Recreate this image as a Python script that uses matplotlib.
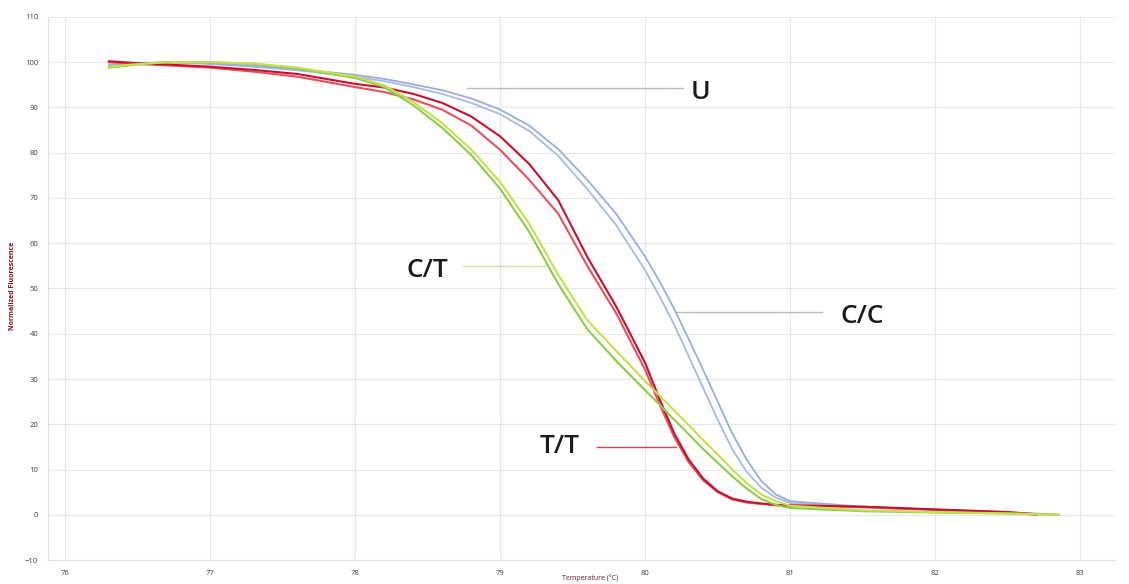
import matplotlib
matplotlib.use('Agg')
import matplotlib.pyplot as plt

# melt curves (temperature in degC, normalized fluorescence)
temp = [76.3, 76.5, 76.7, 77.0, 77.3, 77.6, 78.0, 78.2, 78.4, 78.6, 78.8, 79.0,
        79.2, 79.4, 79.6, 79.8, 80.0, 80.1, 80.2, 80.3, 80.4, 80.5, 80.6, 80.7,
        80.8, 80.9, 81.0, 81.5, 82.0, 82.5, 82.85]

blue_1 = [99.5, 99.8, 100.0, 99.6, 99.0, 98.2, 96.8, 95.8, 94.5, 93.0, 91.0, 88.5,
          84.8, 79.3, 72.0, 64.0, 54.0, 48.2, 42.0, 35.0, 28.0, 21.0, 14.5, 9.5,
          6.0, 3.8, 2.6, 1.6, 1.0, 0.5, 0.0]
blue_2 = [99.3, 99.7, 100.0, 99.7, 99.2, 98.5, 97.2, 96.3, 95.1, 93.8, 92.0, 89.5,
          86.0, 80.8, 74.0, 66.5, 57.0, 51.5, 45.5, 38.8, 32.0, 25.0, 18.0, 12.2,
          7.5, 4.5, 3.0, 1.8, 1.1, 0.6, 0.0]

temp_red = [76.3, 76.5, 76.7, 77.0, 77.3, 77.6, 78.0, 78.2, 78.4, 78.6, 78.8, 79.0,
            79.2, 79.4, 79.6, 79.8, 80.0, 80.1, 80.2, 80.3, 80.4, 80.5, 80.6, 80.7,
            80.8, 80.9, 81.0, 81.5, 82.0, 82.5, 82.7]
red_1 = [100.2, 99.8, 99.5, 99.0, 98.3, 97.4, 95.2, 94.4, 93.0, 91.0, 88.0, 83.6,
         77.5, 69.5, 57.0, 46.0, 33.5, 25.5, 18.0, 12.2, 8.0, 5.2, 3.6, 2.9,
         2.5, 2.2, 2.1, 1.8, 1.2, 0.6, 0.1]
red_2 = [100.0, 99.6, 99.3, 98.8, 97.9, 96.8, 94.5, 93.4, 91.8, 89.5, 86.0, 80.6,
         74.0, 66.5, 55.0, 44.5, 32.0, 24.3, 17.2, 11.6, 7.6, 5.0, 3.4, 2.7,
         2.4, 2.1, 2.0, 1.7, 1.1, 0.5, 0.0]

green_1 = [98.8, 99.5, 100.0, 100.0, 99.6, 98.6, 96.5, 94.5, 90.5, 85.5, 79.5, 72.0,
           62.5, 51.0, 41.0, 34.0, 27.5, 24.3, 21.0, 17.8, 14.5, 11.5, 8.5, 5.8,
           3.5, 2.2, 1.5, 0.8, 0.5, 0.3, 0.0]
green_2 = [99.0, 99.6, 100.0, 100.0, 99.7, 98.8, 96.8, 94.9, 91.2, 86.5, 80.7, 73.5,
           64.3, 53.0, 43.0, 36.2, 29.5, 26.3, 23.0, 19.8, 16.5, 13.3, 10.0, 7.0,
           4.5, 3.0, 2.0, 1.0, 0.6, 0.3, 0.0]

# label text, text position, leader line (x0, x1, y)
labels = ['U', 'C/C', 'C/T', 'T/T']
label_xy = [(80.38, 93.2), (81.5, 43.8), (78.5, 54.0), (79.41, 15.0)]
leader = [(78.77, 80.26, 94.3), (80.22, 81.22, 44.8), (78.74, 79.31, 55.0), (79.67, 80.21, 15.0)]
leader_colors = ['#b8b8c4', '#b8b8c4', '#c8e68c', '#e04050']

x_ticks = [76, 77, 78, 79, 80, 81, 82, 83]
y_ticks = list(range(-10, 111, 10))

plt.rcParams['font.family'] = ['Open Sans', 'DejaVu Sans']

fig = plt.figure(figsize=(11.29, 5.84), dpi=100)
ax = fig.add_axes([0.0425, 0.041, 0.945, 0.930])

ax.plot(temp, blue_1, color='#a9b9e6', lw=1.3)
ax.plot(temp, blue_2, color='#9aacdf', lw=1.3)
ax.plot(temp_red, red_2, color='#e8505c', lw=1.5)
ax.plot(temp_red, red_1, color='#c8102e', lw=1.5)
ax.plot(temp, green_1, color='#8ccc4a', lw=1.5)
ax.plot(temp, green_2, color='#c4e04c', lw=1.5)

for (x0, x1, y), c in zip(leader, leader_colors):
    ax.plot([x0, x1], [y, y], color=c, lw=1.0)
for txt, (x, y) in zip(labels, label_xy):
    ax.text(x, y, txt, fontsize=19, fontweight='semibold', color='#1a1a1a',
            ha='center', va='center')

ax.set_xlim(75.88, 83.24)
ax.set_ylim(-10, 110)
ax.set_xticks(x_ticks)
ax.set_yticks(y_ticks)
ax.tick_params(length=0, labelsize=5.5, colors='#3a3a4a', pad=7)
ax.grid(True, color='#e6e6ef', lw=0.8)
ax.set_axisbelow(True)
for side in ['top', 'right']:
    ax.spines[side].set_visible(False)
for side in ['left', 'bottom']:
    ax.spines[side].set_color('#e0e0ea')
    ax.spines[side].set_linewidth(0.8)

fig.text(0.011, 0.51, 'Normalized Fluorescence', rotation=90, fontsize=5,
         fontweight='bold', color='#7a1020', ha='center', va='center')
fig.text(0.523, 0.004, 'Temperature (\u00b0C)', fontsize=5, color='#5a2030',
         ha='center', va='bottom')

fig.savefig('out.png', dpi=100)
